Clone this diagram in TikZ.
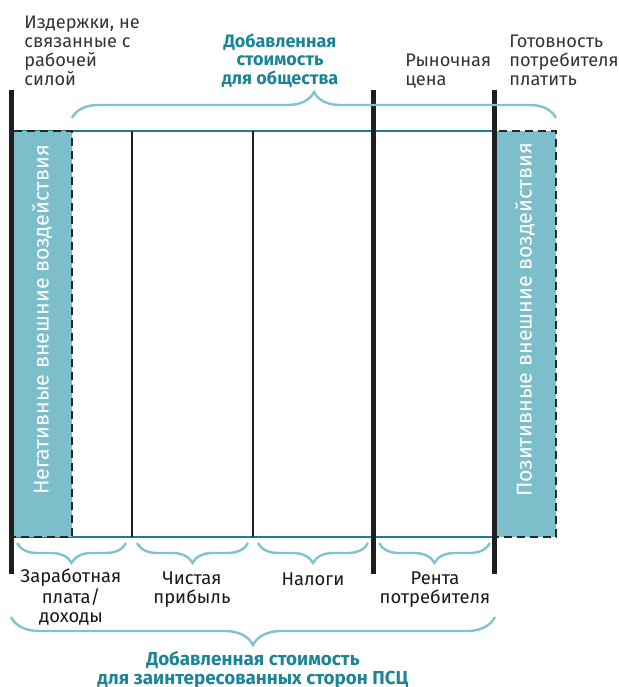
\documentclass[tikz,border=0pt]{standalone}
\usepackage{fontspec}
\setmainfont{Fira Sans}
\usepackage{tikz}
\usetikzlibrary{decorations.pathreplacing}

\definecolor{tealdark}{HTML}{1A7F8E}
\definecolor{tealfill}{HTML}{7CBFCB}
\definecolor{tealbrace}{HTML}{7EC3CE}
\definecolor{tealtext}{HTML}{1B8597}
\definecolor{inkgrey}{HTML}{333333}

\begin{document}
\begin{tikzpicture}[x=0.5pt,y=-0.5pt,
    bar/.style={line width=2.5pt,black!88},
    divider/.style={line width=1pt,black!88},
    rim/.style={line width=1pt,tealdark},
    dashbox/.style={fill=tealfill,draw=black!85,line width=1.2pt,dash pattern=on 4pt off 2.5pt},
    curly/.style={decorate,decoration={brace,amplitude=#1},draw=tealbrace,line width=1.2pt},
    curly/.default=10pt,
    note/.style={inner sep=0pt,text=inkgrey,align=left,anchor=base west,
      font=\fontsize{9.1}{9.5}\selectfont},
    item/.style={inner sep=0pt,text=black!90,align=center,anchor=base,
      font=\fontsize{9.2}{9.25}\selectfont},
    headline/.style={inner sep=0pt,text=tealtext,align=center,anchor=base,
      font=\fontsize{#1}{9.25}\selectfont\bfseries},
    headline/.default=9,
    sidetext/.style={inner sep=0pt,text=white,rotate=90,
      font=\fontsize{10.7}{12}\selectfont}
  ]
  \useasboundingbox (0,0) rectangle (618,687);

  % teal rims and the two dashed boxes
  \draw[rim] (11,131) -- (494,131);
  \draw[rim] (11,537) -- (494,537);
  \draw[dashbox] (11,131) rectangle (72,537);
  \draw[dashbox] (494,131) rectangle (556,537);

  \foreach \x in {132,253} {\draw[divider] (\x,131) -- (\x,537);};
  \foreach \x in {11,373,494} {\draw[bar] (\x,90) -- (\x,574);};

  \node[sidetext] (negative) at (42,320) {Негативные внешние воздействия};
  \node[sidetext] (positive) at (525,320) {Позитивные внешние воздействия};

  % braces
  \draw[curly=13pt] (72,118) -- (556,118);
  \foreach \a/\b in {17/126,137/248,258/368,379/490} {\draw[curly] (\b,543) -- (\a,543);};
  \draw[curly=14pt] (495,617) -- (11,617);

  % labels (anchored on the baseline of the last line)
  \node[note] (costs) at (24,85) {Издержки, не\\связанные с\\рабочей\\силой};
  \node[headline] (society) at (280,84) {Добавленная\\стоимость\\для общества};
  \node[note] (price) at (405,85) {Рыночная\\цена};
  \node[note] (willing) at (509,85) {Готовность\\потребителя\\платить};

  \node[item] (wages) at (71,622) {Заработная\\плата/\\доходы};
  \node[item] (profit) at (192,603) {Чистая\\прибыль};
  \node[item] (taxes) at (313,585) {Налоги};
  \node[item] (rent) at (435,603) {Рента\\потребителя};

  \node[headline=9.4] (stakeholders) at (253,684) {Добавленная стоимость\\для заинтересованных сторон ПСЦ};
\end{tikzpicture}
\end{document}
